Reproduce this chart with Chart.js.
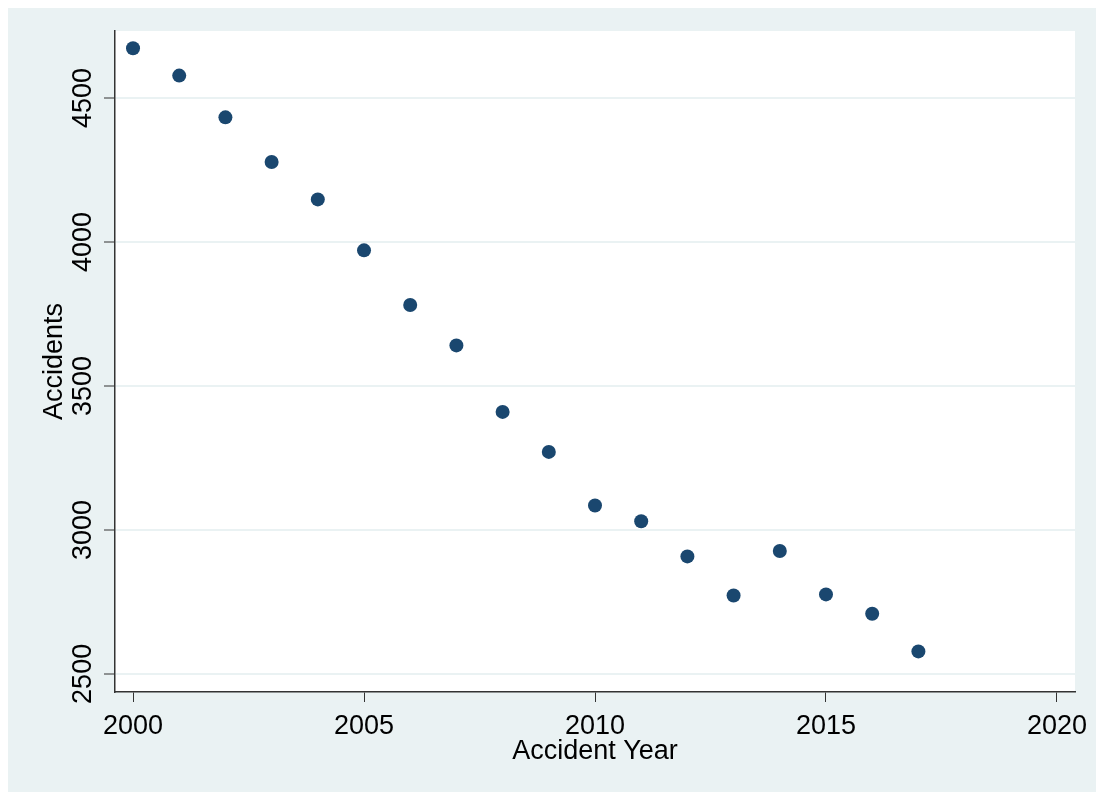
<!DOCTYPE html>
<html>
<head>
<meta charset="utf-8">
<script src="https://cdn.jsdelivr.net/npm/chart.js@4/dist/chart.umd.min.js"></script>
<style>
  body { margin: 0; background: #ffffff; }
  canvas { display: block; }
</style>
</head>
<body>
<canvas id="accChart" width="1096" height="792"></canvas>
<script>
// data
const years = [2000, 2001, 2002, 2003, 2004, 2005, 2006, 2007, 2008, 2009, 2010, 2011, 2012, 2013, 2014, 2015, 2016, 2017];
const accidents = [4673, 4578, 4433, 4278, 4148, 3971, 3781, 3641, 3410, 3271, 3085, 3030, 2908, 2772, 2927, 2776, 2709, 2578];
const xTicks = [2000, 2005, 2010, 2015, 2020];
const yTicks = [2500, 3000, 3500, 4000, 4500];
const xTitle = 'Accident Year';
const yTitle = 'Accidents';

const bgColor = '#EAF2F3';
const markerColor = '#1A476F';
const axisColor = '#333333';
const font = '27px "Liberation Sans", Arial, sans-serif';

//* backgrounds and text
const stataLook = {
    id: 'stataLook',
    beforeDraw(chart) {
        const ctx = chart.ctx;
        const area = chart.chartArea;
        ctx.save();
        ctx.fillStyle = '#ffffff';
        ctx.fillRect(0, 0, chart.width, chart.height);
        ctx.fillStyle = bgColor;
        ctx.fillRect(8, 8, chart.width - 8, chart.height - 8);
        ctx.fillStyle = '#ffffff';
        ctx.fillRect(area.left, area.top, area.right - area.left, area.bottom - area.top);
        ctx.restore();
    },
    afterDraw(chart) {
        const ctx = chart.ctx;
        const area = chart.chartArea;
        const xs = chart.scales.x;
        const ys = chart.scales.y;
        ctx.save();
        ctx.font = font;
        ctx.fillStyle = '#000000';
        ctx.textAlign = 'center';
        ctx.textBaseline = 'alphabetic';

        // x tick labels
        for (const t of xTicks) {
            ctx.fillText(String(t), xs.getPixelForValue(t), area.bottom + 42);
        }
        // x title
        ctx.fillText(xTitle, (area.left + area.right) / 2, area.bottom + 67);

        // y tick labels, rotated
        for (const t of yTicks) {
            ctx.save();
            ctx.translate(area.left - 24, ys.getPixelForValue(t));
            ctx.rotate(-Math.PI / 2);
            ctx.fillText(String(t), 0, 0);
            ctx.restore();
        }
        // y title
        ctx.save();
        ctx.translate(area.left - 53, (area.top + area.bottom) / 2);
        ctx.rotate(-Math.PI / 2);
        ctx.fillText(yTitle, 0, 0);
        ctx.restore();

        ctx.restore();
    }
};

const data = {
    datasets: [{
        label: yTitle,
        data: years.map((yr, i) => ({ x: yr, y: accidents[i] })),
        backgroundColor: markerColor,
        borderColor: markerColor,
        borderWidth: 0,
        pointRadius: 7,
        pointHoverRadius: 7,
        showLine: false
    }]
};

const config = {
    type: 'scatter',
    data: data,
    options: {
        responsive: false,
        animation: false,
        layout: {
            padding: { left: 0, top: 31, right: 21, bottom: 0 }
        },
        plugins: {
            legend: { display: false },
            tooltip: { enabled: false }
        },
        scales: {
            x: {
                type: 'linear',
                min: 1999.61,
                max: 2020.39,
                afterBuildTicks: (scale) => { scale.ticks = xTicks.map(v => ({ value: v })); },
                afterFit: (scale) => { scale.height = 100; },
                ticks: { display: false },
                grid: {
                    drawOnChartArea: false,
                    drawTicks: true,
                    tickLength: 10,
                    tickColor: axisColor,
                    tickWidth: 1
                },
                border: { display: true, color: axisColor, width: 1.5 }
            },
            y: {
                type: 'linear',
                min: 2437,
                max: 4733,
                afterBuildTicks: (scale) => { scale.ticks = yTicks.map(v => ({ value: v })); },
                afterFit: (scale) => { scale.width = 115; },
                ticks: { display: false },
                grid: {
                    color: bgColor,
                    lineWidth: 2,
                    drawTicks: true,
                    tickLength: 11,
                    tickColor: axisColor,
                    tickWidth: 1
                },
                border: { display: true, color: axisColor, width: 1.5 }
            }
        }
    },
    plugins: [stataLook]
};

var myChart = new Chart(document.getElementById('accChart'), config);
</script>
</body>
</html>
